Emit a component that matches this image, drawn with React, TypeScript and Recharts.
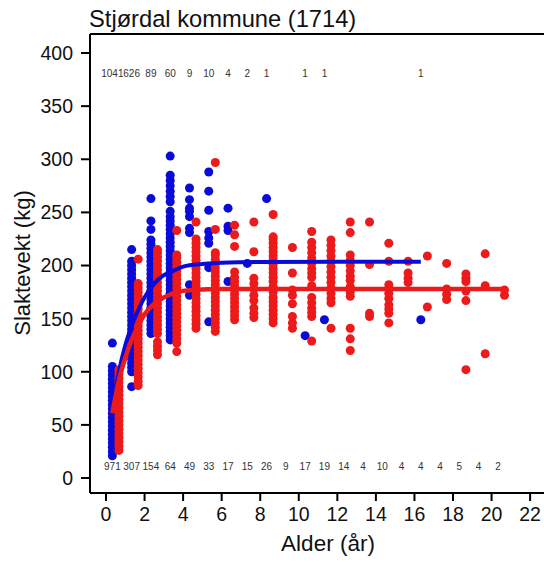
import React from 'react';
import { ScatterChart, Scatter, XAxis, YAxis, ReferenceLine } from 'recharts';

// ---- data ----
const maleAges = [0.33, 1.33, 2.33, 3.33, 4.33, 5.33, 6.33, 7.33, 8.33, 10.33, 11.33, 16.33];
const maleWeights: number[][] = [
  [21, 25, 29, 33, 37, 41, 45, 49, 53, 57, 61, 65, 69, 73, 77, 81, 85, 89, 93, 97, 101, 105, 127],
  [86, 100, 104, 108, 112, 116, 120, 124, 128, 132, 136, 140, 144, 148, 152, 156, 160, 164, 168, 172, 176, 180, 184, 188, 192, 196, 200, 204, 215],
  [136, 140, 144, 148, 152, 156, 160, 164, 168, 172, 176, 180, 184, 188, 192, 196, 200, 204, 208, 212, 216, 220, 224, 234, 242, 263],
  [130, 134, 138, 142, 146, 150, 154, 158, 162, 166, 170, 174, 178, 182, 186, 190, 194, 198, 202, 206, 210, 214, 218, 222, 226, 230, 234, 238, 242, 246, 251, 260, 265, 270, 275, 280, 285, 303],
  [172, 182, 231, 235, 246, 251, 254, 262, 273],
  [147, 198, 221, 226, 232, 252, 270, 288],
  [185, 233, 237, 254],
  [202],
  [263],
  [134],
  [149],
  [149],
];

const femaleAges = [0.67, 1.67, 2.67, 3.67, 4.67, 5.67, 6.67, 7.67, 8.67, 9.67, 10.67, 11.67, 12.67, 13.67, 14.67, 15.67, 16.67, 17.67, 18.67, 19.67, 20.67];
const femaleWeights: number[][] = [
  [26, 30, 34, 38, 42, 46, 50, 54, 58, 62, 66, 70, 74, 78, 82, 86, 90, 94, 98, 102],
  [87, 91, 95, 99, 103, 107, 111, 115, 119, 123, 127, 131, 135, 139, 143, 147, 151, 155, 159, 163, 167, 171, 175, 179, 183, 206],
  [116, 120, 124, 128, 136, 140, 144, 148, 152, 156, 160, 164, 168, 172, 176, 180, 184, 188, 192, 196, 200, 204, 208, 212, 215],
  [119, 127, 131, 135, 139, 143, 147, 151, 155, 159, 163, 167, 171, 175, 179, 183, 187, 191, 195, 199, 203, 207, 210, 233],
  [141, 145, 149, 153, 157, 161, 165, 169, 173, 177, 181, 185, 189, 193, 197, 201, 205, 209, 213, 217, 221, 225, 241],
  [138, 142, 146, 150, 154, 158, 162, 166, 170, 174, 178, 182, 186, 190, 194, 198, 202, 206, 210, 212, 234, 297],
  [149, 153, 157, 161, 165, 169, 173, 177, 181, 185, 189, 194, 218, 229, 238],
  [151, 155, 160, 167, 172, 178, 183, 188, 213, 241],
  [146, 150, 154, 158, 162, 166, 170, 175, 180, 185, 189, 193, 197, 201, 205, 209, 213, 217, 221, 225, 227, 248],
  [141, 146, 152, 164, 172, 177, 193, 217],
  [129, 152, 156, 160, 165, 170, 181, 189, 193, 197, 202, 207, 212, 217, 222, 232],
  [141, 165, 169, 174, 179, 184, 189, 194, 199, 204, 209, 214, 219, 224],
  [120, 131, 141, 171, 175, 180, 186, 190, 195, 200, 205, 210, 231, 241],
  [152, 155, 201, 241],
  [146, 155, 159, 163, 169, 174, 178, 182, 204, 221],
  [184, 188, 193, 204],
  [161, 209],
  [168, 173, 178, 202],
  [102, 167, 176, 185, 188, 192],
  [117, 181, 211],
  [172, 177],
];

const maleFitAges = [0.33, 0.67, 1.0, 1.33, 1.67, 2.0, 2.5, 3.0, 3.5, 4.0, 5.0, 6.0, 8.0, 12.0, 16.33];
const maleFitWeights = [62, 100, 125, 143, 158, 170, 183, 191, 195, 199, 201.5, 202.5, 203.3, 203.5, 203.5];

const femaleFitAges = [0.33, 0.67, 1.0, 1.33, 1.67, 2.0, 2.5, 3.0, 3.67, 4.5, 6.0, 10.0, 20.5];
const femaleFitWeights = [61, 92, 113, 130, 143, 154, 164, 170, 175, 177, 178, 178, 177.8];

const maleCountAges = [0.33, 1.33, 2.33, 3.33, 4.33, 5.33, 6.33, 7.33, 8.33, 10.33, 11.33, 16.33];
const maleCounts = [1041, 626, 89, 60, 9, 10, 4, 2, 1, 1, 1, 1];

const femaleCountAges = [0.33, 1.33, 2.33, 3.33, 4.33, 5.33, 6.33, 7.33, 8.33, 9.33, 10.33, 11.33, 12.33, 13.33, 14.33, 15.33, 16.33, 17.33, 18.33, 19.33, 20.33];
const femaleCounts = [971, 307, 154, 64, 49, 33, 17, 15, 26, 9, 17, 19, 14, 4, 10, 4, 4, 4, 5, 4, 2];

const xTicks = [0, 2, 4, 6, 8, 10, 12, 14, 16, 18, 20, 22];
const yTicks = [0, 50, 100, 150, 200, 250, 300, 350, 400];

// ---- layout / style ----
const X_MIN = -0.83;
const X_MAX = 22.72;
const Y_MIN = -14.1;
const Y_MAX = 417.9;
const TOP_COUNT_LEVEL = 381;
const BOTTOM_COUNT_LEVEL = 10.6;
const BLUE = '#0b0bd9';
const RED = '#ec1a1a';
const FONT = '"Liberation Sans", Arial, Helvetica, sans-serif';

const toPoints = (ages: number[], weights: number[][]) =>
  ages.flatMap((a, i) => weights[i].map((w) => ({ x: a, y: w })));
const toLine = (ages: number[], vals: number[]) => ages.map((a, i) => ({ x: a, y: vals[i] }));
const toCounts = (ages: number[], counts: number[], level: number) =>
  ages.map((a, i) => ({ x: a, y: level, n: counts[i] }));

const malePoints = toPoints(maleAges, maleWeights);
const femalePoints = toPoints(femaleAges, femaleWeights);
const maleFit = toLine(maleFitAges, maleFitWeights);
const femaleFit = toLine(femaleFitAges, femaleFitWeights);
const maleCountData = toCounts(maleCountAges, maleCounts, TOP_COUNT_LEVEL);
const femaleCountData = toCounts(femaleCountAges, femaleCounts, BOTTOM_COUNT_LEVEL);

const CountLabel = (props: any) => {
  const { cx, cy, payload } = props;
  return (
    <text
      x={cx}
      y={cy}
      textAnchor="middle"
      dominantBaseline="central"
      fontSize={10}
      fontFamily={FONT}
      fill="#333"
    >
      {payload.n}
    </text>
  );
};

const NoDot = () => <g />;

export default function App() {
  return (
    <div
      style={{
        position: 'absolute',
        left: 0,
        top: 0,
        width: 544,
        height: 562,
        overflow: 'hidden',
        background: '#fff',
      }}
    >
      <ScatterChart width={544} height={562} margin={{ top: 34, right: 0, bottom: 0, left: 0 }}>
        <XAxis
          type="number"
          dataKey="x"
          domain={[X_MIN, X_MAX]}
          ticks={xTicks}
          interval={0}
          allowDataOverflow
          height={69}
          tickSize={8}
          tickMargin={6}
          axisLine={{ stroke: '#000', strokeWidth: 2 }}
          tickLine={{ stroke: '#000', strokeWidth: 2 }}
          tick={{ fill: '#111', fontSize: 19.5, fontFamily: FONT }}
        />
        <YAxis
          type="number"
          dataKey="y"
          domain={[Y_MIN, Y_MAX]}
          ticks={yTicks}
          interval={0}
          allowDataOverflow
          width={90}
          tickSize={9}
          tickMargin={8}
          axisLine={{ stroke: '#000', strokeWidth: 2 }}
          tickLine={{ stroke: '#000', strokeWidth: 2 }}
          tick={{ fill: '#111', fontSize: 19.5, fontFamily: FONT }}
        />
        <ReferenceLine y={Y_MAX} stroke="#000" strokeWidth={2} ifOverflow="extendDomain" />
        <Scatter data={malePoints} fill={BLUE} isAnimationActive={false} />
        <Scatter data={femalePoints} fill={RED} isAnimationActive={false} />
        <Scatter
          data={maleFit}
          fill={BLUE}
          line={{ stroke: BLUE, strokeWidth: 4 }}
          lineJointType="monotoneX"
          shape={NoDot}
          isAnimationActive={false}
        />
        <Scatter
          data={femaleFit}
          fill={RED}
          line={{ stroke: RED, strokeWidth: 4.5 }}
          lineJointType="monotoneX"
          shape={NoDot}
          isAnimationActive={false}
        />
        <Scatter data={maleCountData} shape={CountLabel} isAnimationActive={false} />
        <Scatter data={femaleCountData} shape={CountLabel} isAnimationActive={false} />
      </ScatterChart>
      <svg
        width={544}
        height={562}
        style={{ position: 'absolute', left: 0, top: 0, pointerEvents: 'none' }}
      >
        <text x={89} y={27} fontSize={23.7} fontFamily={FONT} fill="#111">
          Stjørdal kommune (1714)
        </text>
        <text
          x={30}
          y={263}
          fontSize={22}
          fontFamily={FONT}
          fill="#111"
          textAnchor="middle"
          transform="rotate(-90 30 263)"
        >
          Slaktevekt (kg)
        </text>
        <text x={328} y={551} fontSize={22.5} fontFamily={FONT} fill="#111" textAnchor="middle">
          Alder (år)
        </text>
      </svg>
    </div>
  );
}
